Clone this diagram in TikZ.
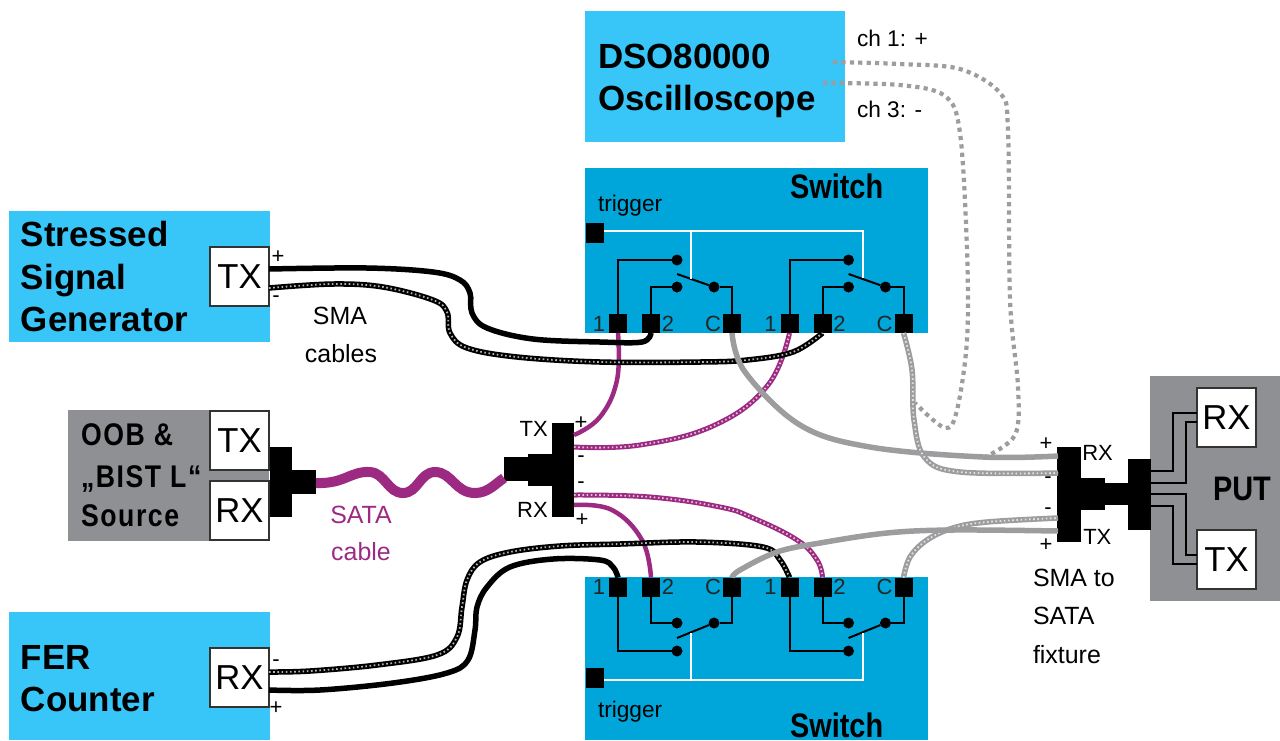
\documentclass[tikz,border=0pt]{standalone}
\usepackage{fontspec}
\setmainfont{Liberation Sans}
\newfontfamily\narrowb{Liberation Sans Bold}[FakeStretch=0.85]
\newfontfamily\spacedb{Liberation Sans Bold}[FakeStretch=0.85,LetterSpace=5]
\usetikzlibrary{calc}
\newdimen\px \px=0.75pt
\definecolor{lightblue}{HTML}{38C5F7}
\definecolor{switchblue}{HTML}{00A6D9}
\definecolor{putgray}{HTML}{8E9093}
\definecolor{sataviolet}{HTML}{9C2A82}
\definecolor{cablegray}{HTML}{9D9D9F}
\newcommand{\bigbtxt}{\fontsize{26.2}{30}\bfseries\selectfont}
\newcommand{\nartxt}{\fontsize{25.5}{30}\narrowb\selectfont}
\newcommand{\oobtxt}{\fontsize{23.5}{28}\spacedb\selectfont}
\newcommand{\porttxt}{\fontsize{26}{30}\selectfont}
\newcommand{\labtxt}{\fontsize{18.7}{22}\selectfont}
\newcommand{\smalltxt}{\fontsize{17}{20}\selectfont}
\newcommand{\termtxt}{\fontsize{16.5}{19}\selectfont}
\tikzset{
 sz/.style 2 args={minimum width=#1\px,minimum height=#2\px,inner sep=0pt,outer sep=0pt,anchor=north west},
 portbox/.style={draw=black!80,fill=white,line width=1.5\px,sz={59}{59},text=black,font=\porttxt},
 txt/.style={anchor=base west,inner sep=0pt,outer sep=0pt,text=black},
 ctr/.style={anchor=base,inner sep=0pt,outer sep=0pt,text=black,align=center},
 pin/.style={fill=black,inner sep=0pt,outer sep=0pt,minimum width=18\px,minimum height=19\px,anchor=center},
 contact/.style={circle,fill=black,inner sep=0pt,outer sep=0pt,minimum size=11\px},
 pinlabel/.style={anchor=center,inner sep=0pt,font=\termtxt,text=black!85},
 wire/.style={draw=black,line width=2\px},
 whitewire/.style={draw=white,line width=1.4\px},
 solidcable/.style={draw=#1,line width=5.5\px,line join=round},
 braid/.style={draw=#1,line width=5.5\px,line join=round,
   postaction={draw=white!70!#1,line width=1.8\px,dash pattern=on 1.6\px off 2.6\px}},
 scopeprobe/.style={draw=cablegray,line width=4.2\px,dash pattern=on 4.2\px off 4.2\px},
 sign/.style={anchor=center,inner sep=0pt,font=\termtxt,text=black},
}
\newcommand{\relay}[6]{% prefix, dx, pin y, contact-1 y, contact-2 y, blade y
 \node[pin] (#1a) at (618+#2,#3) {};
 \node[pin] (#1b) at (651+#2,#3) {};
 \node[pin] (#1c) at (732+#2,#3) {};
 \node[contact] (#1d) at (677+#2,#4) {};
 \node[contact] (#1e) at (677+#2,#5) {};
 \node[contact] (#1f) at (714+#2,#5) {};
 \coordinate (#1g) at (677+#2,#6);
 \draw[wire] (#1a) |- (#1d);
 \draw[wire] (#1b) |- (#1e);
 \draw[wire] (#1c) |- (#1f);
 \draw[wire] (#1g) -- (#1f);
 \node[pinlabel] (#1p) at (599+#2,#3) {1};
 \node[pinlabel] (#1q) at (668+#2,#3) {2};
 \node[pinlabel] (#1r) at (713+#2,#3) {C};
}
\begin{document}
\begin{tikzpicture}[x=0.75pt,y=-0.75pt]
\useasboundingbox (0,0) rectangle (1280,740);
% panels
\node[fill=lightblue,sz={260}{131}] (dso) at (585,11) {};
\node[fill=switchblue,sz={343}{165}] (sw1) at (585,168) {};
\node[fill=switchblue,sz={343}{163}] (sw2) at (585,577) {};
\node[fill=lightblue,sz={261}{131}] (gen) at (9,211) {};
\node[fill=putgray,sz={201}{131}] (oob) at (68,410) {};
\node[fill=lightblue,sz={261}{128}] (fer) at (9,612) {};
\node[fill=putgray,sz={130}{225}] (put) at (1150,376) {};
% port boxes
\node[portbox] (gentx) at (210,247) {TX};
\node[portbox] (oobtx) at (210,411) {TX};
\node[portbox] (oobrx) at (210,481) {RX};
\node[portbox] (ferrx) at (210,648) {RX};
\node[portbox] (putrx) at (1197,388) {RX};
\node[portbox] (puttx) at (1197,530) {TX};
% panel text
\node[txt,font=\bigbtxt] (t1) at (598,68) {DSO80000};
\node[txt,font=\bigbtxt] (t2) at (598,110) {Oscilloscope};
\node[txt,font=\bigbtxt] (t3) at (21,246) {Stressed};
\node[txt,font=\bigbtxt] (t4) at (21,289) {Signal};
\node[txt,font=\bigbtxt] (t5) at (21,331) {Generator};
\node[txt,font=\bigbtxt] (t6) at (21,669) {FER};
\node[txt,font=\bigbtxt] (t7) at (21,711) {Counter};
\node[txt,font=\oobtxt] (t8) at (81,445) {OOB \&};
\node[txt,font=\oobtxt] (t9) at (81,487) {„BIST L“};
\node[txt,font=\oobtxt] (t10) at (81,526) {Source};
\node[txt,font=\nartxt] (t11) at (1213,500) {PUT};
\node[txt,font=\nartxt] (t12) at (790,198) {Switch};
\node[txt,font=\nartxt] (t13) at (790,737) {Switch};
\node[txt,font=\smalltxt] (t14) at (598,211) {trigger};
\node[txt,font=\smalltxt] (t15) at (598,717) {trigger};
\node[txt,font=\smalltxt] (t16) at (857,46) {ch 1: +};
\node[txt,font=\smalltxt] (t17) at (857,117) {ch 3: -};
\node[ctr,font=\labtxt] (t18) at (340,324) {SMA};
\node[ctr,font=\labtxt] (t19) at (341,362) {cables};
\node[ctr,font=\labtxt,text=sataviolet] (t20) at (361,523) {SATA};
\node[ctr,font=\labtxt,text=sataviolet] (t21) at (361,560) {cable};
\node[txt,font=\labtxt] (t22) at (1033,586) {SMA to};
\node[txt,font=\labtxt] (t23) at (1033,624) {SATA};
\node[txt,font=\labtxt] (t24) at (1033,663) {fixture};
% switch interiors
\relay{u}{0}{323.5}{260}{287}{274}
\relay{v}{171.5}{323.5}{260}{287}{274}
\relay{w}{0}{587}{651}{623}{638}
\relay{z}{171.5}{587}{651}{623}{638}
\node[pin,minimum height=20\px] (trigu) at (594.5,233) {};
\node[pin,minimum height=20\px] (trigl) at (594.5,678) {};
\coordinate (ju) at (691,231);
\coordinate (ku) at (863,231);
\coordinate (jl) at (691,680);
\coordinate (kl) at (863,680);
\coordinate (bu1) at (691,279);
\coordinate (bu2) at (863,278);
\coordinate (bl1) at (691,633);
\coordinate (bl2) at (863,633);
\draw[whitewire] (trigu.east |- ju) -- (ku) -- (bu2);
\draw[whitewire] (ju) -- (bu1);
\draw[whitewire] (trigl.east |- jl) -- (kl) -- (bl2);
\draw[whitewire] (jl) -- (bl1);
% SATA connector, left
\node[fill=black,sz={22}{70}] (cl1) at (270,447) {};
\node[fill=black,sz={24}{24}] (cl2) at (292,470) {};
% SATA connector, right
\node[fill=black,sz={22}{94}] (cr1) at (552,423) {};
\node[fill=black,sz={24}{32}] (cr2) at (528,454) {};
\node[fill=black,sz={24}{24}] (cr3) at (504,457) {};
\node[anchor=base east,inner sep=0pt,font=\termtxt,text=black] (crt) at (548,436) {TX};
\node[anchor=base east,inner sep=0pt,font=\termtxt,text=black] (crr) at (548,517) {RX};
\node[sign] (s1) at (581,423) {+};
\node[sign] (s2) at (581,459) {-};
\node[sign] (s3) at (581,485) {-};
\node[sign] (s4) at (582,520) {+};
\coordinate (crp) at (574,435);
\coordinate (crm) at (574,447);
\coordinate (crn) at (574,495);
\coordinate (crq) at (574,505);
% fixture
\node[fill=black,sz={24}{95}] (fx1) at (1057,447) {};
\node[fill=black,sz={24}{32}] (fx2) at (1081,478) {};
\node[fill=black,sz={23}{22}] (fx3) at (1105,483) {};
\node[fill=black,sz={23}{71}] (fx4) at (1128,459) {};
\node[anchor=base west,inner sep=0pt,font=\termtxt,text=black] (fxr) at (1082,460) {RX};
\node[anchor=base west,inner sep=0pt,font=\termtxt,text=black] (fxt) at (1083,544) {TX};
\node[sign] (s5) at (1046,444) {+};
\node[sign] (s6) at (1048,480) {-};
\node[sign] (s7) at (1048,511) {-};
\node[sign] (s8) at (1046,545) {+};
\coordinate (fxa) at (1058,456);
\coordinate (fxb) at (1058,473);
\coordinate (fxc) at (1058,518);
\coordinate (fxd) at (1058,531);
% signs at generator and counter
\node[sign] (s9) at (278,257) {+};
\node[sign] (s10) at (276,299) {-};
\node[sign] (s11) at (276,663) {-};
\node[sign] (s12) at (276,708) {+};
% PUT wires
\coordinate (p1) at (1173,471);
\coordinate (p2) at (1186,483);
\coordinate (p3) at (1186,494);
\coordinate (p4) at (1173,506);
\coordinate (pr1) at (1197,413);
\coordinate (pr2) at (1197,422);
\coordinate (pt1) at (1197,555);
\coordinate (pt2) at (1197,564);
\draw[wire] (fx4.east |- p1) -- (p1) |- (pr1);
\draw[wire] (fx4.east |- p2) -- (p2) |- (pr2);
\draw[wire] (fx4.east |- p3) -- (p3) |- (pt1);
\draw[wire] (fx4.east |- p4) -- (p4) |- (pt2);
% SATA cable
\coordinate (sa) at (316,483);
\coordinate (sb) at (504,478);
\draw[draw=sataviolet,line width=10\px] (sa) .. controls (345,484) and (350,471) .. (370,472)
  .. controls (385,473) and (388,493) .. (403,493)
  .. controls (418,493) and (420,472) .. (435,472)
  .. controls (452,472) and (455,493) .. (475,493)
  .. controls (488,493) and (495,484) .. (sb);
% purple cables
\draw[solidcable=sataviolet,line width=4.5\px] plot[smooth,tension=.7] coordinates {(crp) (600,417) (617,380) (ua.south)};
\draw[braid=sataviolet,line width=5\px] plot[smooth,tension=.7] coordinates {(crm) (640,445) (715,425) (768,385) (va.south)};
\draw[braid=sataviolet,line width=5\px] plot[smooth,tension=.7] coordinates {(crn) (650,497) (720,507) (753,518) (797,540) (817,560) (zb.north)};
\draw[solidcable=sataviolet,line width=4.5\px] plot[smooth,tension=.7] coordinates {(crq) (612,510) (642,540) (wb.north)};
% black cables, upper
\coordinate (g1) at (269,269);
\coordinate (g2) at (269,288);
\draw[solidcable=black] plot[smooth,tension=.6] coordinates {(g1) (367,268) (433,272) (460,280) (470,293) (472,313) (487,328) (533,339) (600,342) (642,342) (ub.south)};
\draw[braid=black] plot[smooth,tension=.6] coordinates {(g2) (333,284) (383,287) (433,300) (447,312) (450,333) (467,348) (517,357) (600,362) (700,362) (747,360) (793,352) (vb.south)};
% black cables, lower
\coordinate (f1) at (269,672);
\coordinate (f2) at (269,690);
\draw[braid=black] plot[smooth,tension=.6] coordinates {(f1) (310,671) (377,665) (437,655) (457,637) (462,607) (467,580) (480,562) (510,552) (560,546) (620,544) (697,542) (763,547) (780,560) (za.north)};
\draw[solidcable=black] plot[smooth,tension=.6] coordinates {(f2) (320,690) (393,683) (447,673) (468,660) (475,630) (477,607) (487,587) (510,567) (553,559) (600,560) (613,567) (wa.north)};
% gray cables
\draw[solidcable=cablegray] plot[smooth,tension=.6] coordinates {(uc.south) (745,372) (800,425) (870,447) (983,457) (fxa)};
\draw[braid=cablegray] plot[smooth,tension=.6] coordinates {(vc.south) (912,370) (914,420) (925,458) (960,472) (fxb)};
\draw[braid=cablegray] plot[smooth,tension=.6] coordinates {(zc.north) (910,557) (927,540) (953,528) (987,522) (fxc)};
\draw[solidcable=cablegray] plot[smooth,tension=.6] coordinates {(wc.north) (740,570) (777,552) (820,543) (887,533) (953,530) (fxd)};
% scope probes
\coordinate (c1) at (833,62);
\coordinate (c3) at (823,83);
\coordinate (pe1) at (985,457);
\coordinate (pe3) at (915,403);
\draw[scopeprobe] plot[smooth,tension=.55] coordinates {(c1) (900,64) (960,69) (1000,93) (1008,130) (1010,300) (1018,387) (1015,435) (pe1)};
\draw[scopeprobe] plot[smooth,tension=.55] coordinates {(c3) (900,85) (945,96) (960,133) (967,250) (967,340) (957,410) (945,428) (pe3)};
\end{tikzpicture}
\end{document}
